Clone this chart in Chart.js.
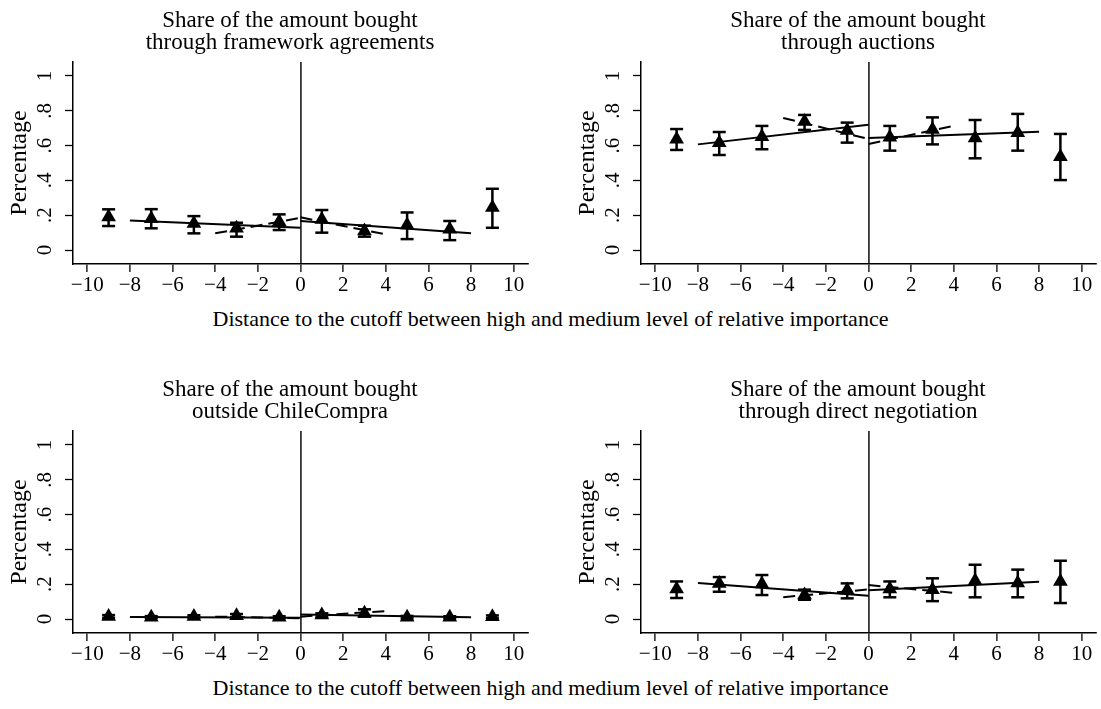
<!DOCTYPE html>
<html>
<head>
<meta charset="utf-8">
<script src="https://cdn.jsdelivr.net/npm/chart.js@4.4.1/dist/chart.umd.min.js"></script>
<style>
body { margin: 0; background: #fff; width: 1101px; height: 709px; position: relative; overflow: hidden; }
.panel { position: absolute; }
.xlab { position: absolute; left: 0; width: 1101px; text-align: center; font-family: 'Liberation Serif', 'Times New Roman', serif; font-size: 22px; line-height: 22px; color: #000; }
</style>
</head>
<body>
<div class="panel" style="left:0px;top:0px"><canvas id="c1" width="580" height="300"></canvas></div>
<div class="panel" style="left:568px;top:0px"><canvas id="c2" width="580" height="300"></canvas></div>
<div class="panel" style="left:0px;top:369px"><canvas id="c3" width="580" height="300"></canvas></div>
<div class="panel" style="left:568px;top:369px"><canvas id="c4" width="580" height="300"></canvas></div>
<div class="xlab" style="top:308px">Distance to the cutoff between high and medium level of relative importance</div>
<div class="xlab" style="top:677px">Distance to the cutoff between high and medium level of relative importance</div>
<script>
//bins (distance to cutoff) and fit line end points
var bins = [-9, -7, -5, -3, -1, 1, 3, 5, 7, 9];
var fitX = [-8, 0, 0, 8];
var dashX = [-4, 0, 0, 4];

//framework agreements
var fwMean = [0.19, 0.18, 0.153, 0.125, 0.163, 0.176, 0.11, 0.144, 0.12, 0.245];
var fwLow = [0.138, 0.125, 0.096, 0.077, 0.115, 0.10, 0.077, 0.063, 0.057, 0.128];
var fwHigh = [0.234, 0.235, 0.195, 0.157, 0.205, 0.23, 0.14, 0.216, 0.167, 0.352];
var fwFit = [0.17, 0.128, 0.167, 0.096];
var fwDash = [0.096, 0.185, 0.188, 0.09];

//auctions
var auMean = [0.636, 0.617, 0.651, 0.738, 0.686, 0.648, 0.693, 0.644, 0.674, 0.536];
var auLow = [0.575, 0.546, 0.579, 0.69, 0.617, 0.571, 0.607, 0.527, 0.571, 0.402];
var auHigh = [0.695, 0.678, 0.713, 0.776, 0.732, 0.713, 0.762, 0.747, 0.782, 0.667];
var auFit = [0.607, 0.72, 0.644, 0.68];
var auDash = [0.759, 0.638, 0.609, 0.713];

//outside ChileCompra
var ocMean = [0.015, 0.011, 0.015, 0.019, 0.01, 0.023, 0.034, 0.011, 0.01, 0.013];
var ocLow = [0.007, 0.005, 0.008, 0.009, 0.004, 0.013, 0.014, 0.004, 0.004, 0.005];
var ocHigh = [0.023, 0.017, 0.022, 0.029, 0.016, 0.033, 0.056, 0.018, 0.016, 0.021];
var ocFit = [0.012, 0.008, 0.026, 0.01];
var ocDash = [0.014, 0.005, 0.014, 0.046];

//direct negotiation
var dnMean = [0.172, 0.205, 0.201, 0.138, 0.167, 0.172, 0.169, 0.22, 0.207, 0.216];
var dnLow = [0.121, 0.157, 0.138, 0.111, 0.119, 0.125, 0.103, 0.125, 0.125, 0.092];
var dnHigh = [0.216, 0.241, 0.253, 0.169, 0.205, 0.216, 0.234, 0.312, 0.284, 0.335];
var dnFit = [0.207, 0.134, 0.165, 0.215];
var dnDash = [0.126, 0.17, 0.195, 0.151];

var yTicks = [0, 0.2, 0.4, 0.6, 0.8, 1];
var yTickLabels = ['0', '.2', '.4', '.6', '.8', '1'];

Chart.defaults.font.family = "'Liberation Serif', 'Times New Roman', serif";
Chart.defaults.color = '#000';

//two point segment from an x array and a y array
function segment(xs, ys, a) {
    return [{x: xs[a], y: ys[a]}, {x: xs[a + 1], y: ys[a + 1]}];
}

function makePanel(id, title, mean, low, high, fit, dash) {
    //error bars: low/high pairs split by a gap
    var barPts = [];
    bins.forEach(function (x, i) {
        barPts.push({x: x, y: low[i]}, {x: x, y: high[i]}, {x: x, y: null});
    });
    var markPts = bins.map(function (x, i) {
        return {x: x, y: mean[i]};
    });

    var lineStyle = {showLine: true, borderColor: '#000', borderWidth: 2, pointRadius: 0, order: 1};
    var dashStyle = {showLine: true, borderColor: '#000', borderWidth: 2, pointRadius: 0, borderDash: [12, 6], order: 2};

    new Chart(document.getElementById(id), {
        type: 'scatter',
        data: {
            datasets: [
                Object.assign({data: segment(fitX, fit, 0)}, lineStyle),
                Object.assign({data: segment(fitX, fit, 2)}, lineStyle),
                Object.assign({data: segment(dashX, dash, 0)}, dashStyle),
                Object.assign({data: segment(dashX, dash, 2)}, dashStyle),
                {
                    data: markPts, pointStyle: 'triangle', pointRadius: 8.5,
                    backgroundColor: '#000', borderColor: '#000', borderWidth: 0, order: 3
                },
                {
                    data: barPts, showLine: true, spanGaps: false, borderColor: '#000', borderWidth: 2.5,
                    pointStyle: 'line', pointRadius: 6.5, pointBorderWidth: 2.5, pointBorderColor: '#000', order: 4
                }
            ]
        },
        options: {
            responsive: false,
            animation: false,
            layout: {padding: 0},
            plugins: {
                legend: {display: false},
                tooltip: {enabled: false},
                title: {
                    display: true, text: title, color: '#000',
                    font: {size: 23, weight: 'normal', lineHeight: 0.957},
                    padding: {top: 10, bottom: 8}
                }
            },
            scales: {
                x: {
                    type: 'linear', min: -10.67, max: 10.67,
                    afterFit: function (s) { s.height = 36; },
                    border: {color: '#000', width: 1.5},
                    grid: {
                        color: function (c) { return c.tick && c.tick.value === 0 ? '#333' : 'rgba(0,0,0,0)'; },
                        lineWidth: 1.8, tickColor: '#000', tickWidth: 1.3, tickLength: 8
                    },
                    ticks: {
                        stepSize: 2, includeBounds: false, autoSkip: false, maxRotation: 0,
                        padding: 1, color: '#000', font: {size: 21},
                        callback: function (v) { return v < 0 ? '\u2212' + (-v) : '' + v; }
                    }
                },
                y: {
                    type: 'linear', min: -0.08, max: 1.08,
                    afterFit: function (s) { s.width = 73; },
                    border: {color: '#000', width: 1.5},
                    grid: {drawOnChartArea: false, tickColor: '#000', tickWidth: 1.3, tickLength: 8},
                    ticks: {
                        stepSize: 0.2, includeBounds: false, autoSkip: false,
                        minRotation: 90, maxRotation: 90, crossAlign: 'center',
                        padding: 11.5, color: '#000', font: {size: 21},
                        callback: function (v) {
                            var i = yTicks.indexOf(Math.round(v * 10) / 10);
                            return i >= 0 ? yTickLabels[i] : '';
                        }
                    },
                    title: {
                        display: true, text: 'Percentage', color: '#000',
                        font: {size: 24}, padding: {top: 5, bottom: 0}
                    }
                },
                //empty right side, keeps the title centred like the original
                side: {
                    type: 'linear', position: 'right', display: true,
                    afterFit: function (s) { s.width = 52; },
                    grid: {display: false}, border: {display: false}, ticks: {display: false}
                }
            }
        }
    });
}

makePanel('c1', ['Share of the amount bought', 'through framework agreements'], fwMean, fwLow, fwHigh, fwFit, fwDash);
makePanel('c2', ['Share of the amount bought', 'through auctions'], auMean, auLow, auHigh, auFit, auDash);
makePanel('c3', ['Share of the amount bought', 'outside ChileCompra'], ocMean, ocLow, ocHigh, ocFit, ocDash);
makePanel('c4', ['Share of the amount bought', 'through direct negotiation'], dnMean, dnLow, dnHigh, dnFit, dnDash);
</script>
</body>
</html>
